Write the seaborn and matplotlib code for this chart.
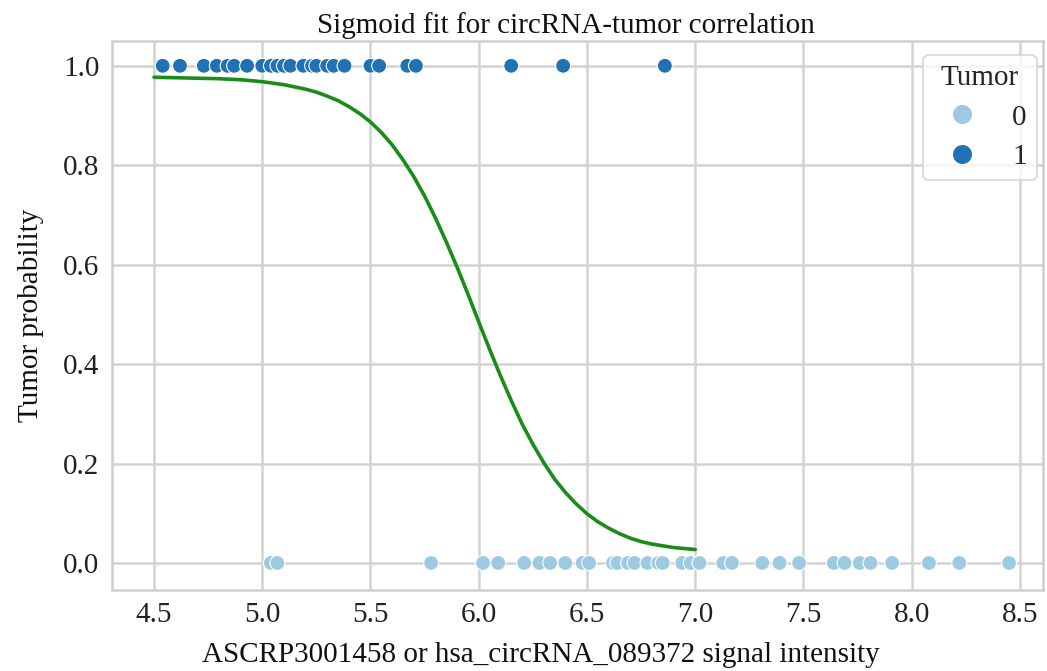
import matplotlib
matplotlib.use("Agg")
import matplotlib.pyplot as plt
import seaborn as sns
import pandas as pd

# Observed samples (signal intensity) by tumor status
tumor1_x = [4.54, 4.62, 4.73, 4.79, 4.84, 4.87, 4.93, 5.00, 5.04, 5.07, 5.10, 5.13,
            5.19, 5.23, 5.25, 5.30, 5.33, 5.38, 5.50, 5.54, 5.67, 5.71, 6.15, 6.39, 6.86]
tumor0_x = [5.04, 5.07, 5.78, 6.02, 6.09, 6.21, 6.28, 6.33, 6.40, 6.48, 6.51, 6.62,
            6.64, 6.69, 6.72, 6.78, 6.83, 6.85, 6.94, 6.98, 7.02, 7.13, 7.17, 7.31,
            7.39, 7.48, 7.64, 7.69, 7.76, 7.81, 7.91, 8.08, 8.22, 8.45]

# Sigmoid fit curve
curve_x = [4.5, 4.6, 4.7, 4.8, 4.9, 5.0, 5.1, 5.2, 5.25, 5.3, 5.35, 5.4, 5.45, 5.5,
           5.55, 5.6, 5.65, 5.7, 5.75, 5.8, 5.85, 5.9, 5.95, 6.0, 6.05, 6.1, 6.15,
           6.2, 6.25, 6.3, 6.35, 6.4, 6.45, 6.5, 6.55, 6.6, 6.65, 6.7, 6.75, 6.8,
           6.9, 7.0]
curve_y = [0.977, 0.976, 0.975, 0.974, 0.972, 0.968, 0.962, 0.953, 0.947, 0.939,
           0.930, 0.918, 0.904, 0.887, 0.866, 0.841, 0.811, 0.777, 0.738, 0.694,
           0.646, 0.595, 0.541, 0.485, 0.430, 0.377, 0.327, 0.280, 0.239, 0.202,
           0.169, 0.142, 0.119, 0.099, 0.083, 0.070, 0.059, 0.050, 0.043, 0.038,
           0.031, 0.027]

df = pd.DataFrame({
    "x": tumor1_x + tumor0_x,
    "y": [1] * len(tumor1_x) + [0] * len(tumor0_x),
    "Tumor": [1] * len(tumor1_x) + [0] * len(tumor0_x),
})
curve = pd.DataFrame({"x": curve_x, "y": curve_y})

sns.set_theme(style="whitegrid")
plt.rcParams["font.family"] = ["Liberation Serif", "DejaVu Serif"]
plt.rcParams["axes.edgecolor"] = "#cfcfcf"
plt.rcParams["grid.color"] = "#d2d2d2"
plt.rcParams["grid.linewidth"] = 1.8
plt.rcParams["axes.linewidth"] = 1.8

fig = plt.figure(figsize=(10.47, 6.71), dpi=100)
ax = fig.add_axes([0.107, 0.121, 0.889, 0.818])

palette = {0: "#9ecae1", 1: "#2171b5"}
sns.scatterplot(data=df, x="x", y="y", hue="Tumor", palette=palette, s=115,
                edgecolor="white", linewidth=0.8, ax=ax, zorder=3)
sns.lineplot(data=curve, x="x", y="y", color="#1a8c1a", linewidth=2.6, ax=ax, zorder=4)

ax.set_xlim(4.306, 8.606)
ax.set_ylim(-0.054, 1.050)
ax.set_xticks([4.5, 5.0, 5.5, 6.0, 6.5, 7.0, 7.5, 8.0, 8.5])
ax.set_yticks([0.0, 0.2, 0.4, 0.6, 0.8, 1.0])
ax.tick_params(labelsize=21, colors="#222222", pad=3)
ax.set_xlabel("ASCRP3001458 or hsa_circRNA_089372 signal intensity", fontsize=21,
              color="#111111", labelpad=8)
ax.xaxis.set_label_coords(0.461, -0.095)
ax.set_ylabel("Tumor probability", fontsize=21, color="#111111", labelpad=14)
ax.set_title("Sigmoid fit for circRNA-tumor correlation", fontsize=21, color="#111111",
             pad=6, x=0.488)

leg = ax.legend(title="Tumor", loc="upper right", fontsize=21, title_fontsize=21,
                frameon=True, markerscale=1.35, borderpad=0.35, labelspacing=0.45,
                handletextpad=0.7, borderaxespad=0, bbox_to_anchor=(0.9936, 0.9745))
leg.get_frame().set_edgecolor("#d5d5d5")
leg.get_frame().set_linewidth(1.5)

fig.savefig("out.png", dpi=100)
